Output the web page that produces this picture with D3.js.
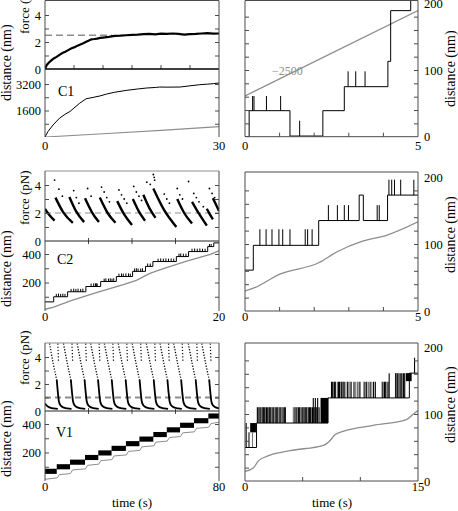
<!DOCTYPE html>
<html><head><meta charset="utf-8">
<script src="https://cdn.jsdelivr.net/npm/d3@7"></script>
<style>
body{margin:0;background:#fff}
svg text{font-family:"Liberation Serif","Times New Roman","DejaVu Serif",serif !important;fill:#000}
</style>
</head><body>
<svg id="chart" width="458" height="511" font-family="Liberation Serif, serif"></svg>
<script>
// ===================== DATA =====================
// --- C1 (left, row 1) ---
const c1ForceT = [0,0.3,0.6,1.0,1.5,2.0,2.5,3.0,3.5,4.0,4.5,5.0,5.5,6.0,6.5,7.0,7.5,8.0,8.5,9,9.5,10,11,12,13,14,15,16,17,18,19,20,21,22,23,24,25,26,27,28,29,30];
const c1Force  = [0,0.3,0.45,0.6,0.78,0.9,1.05,1.18,1.28,1.4,1.52,1.6,1.7,1.8,1.88,2.0,2.1,2.2,2.22,2.25,2.3,2.33,2.38,2.45,2.47,2.5,2.53,2.55,2.58,2.6,2.57,2.62,2.6,2.63,2.6,2.55,2.58,2.6,2.63,2.65,2.62,2.63];
const c1Target = [[0,2.5],[11.6,2.5]];
const c1DistT  = [0,0.5,1.4,2.5,3.5,4.3,5,6,7.1,8.3,9.5,10.6,12,14,16,17.5,19,19.8,21,23.3,25,26.7,28,29,30];
const c1Dist   = [0,324,730,1134,1380,1540,1750,2046,2310,2390,2480,2592,2700,2815,2900,2957,2990,3017,3010,3017,3090,3159,3190,3220,3260];
const c1Gray   = [[0,0],[10,195],[20,405],[30,628]];

// --- C2 (left, row 2) ---
const c2Arcs = [
  [[0,2.3],[0.5,1.85],[1.1,1.45]],
  [[1.2,3.1],[2.1,2.05],[3.2,1.3]],
  [[2.8,3.15],[3.6,2.1],[4.5,1.35]],
  [[4.6,3.05],[5.4,2.05],[6.2,1.35]],
  [[6.3,3.1],[7.2,2.0],[8.1,1.3]],
  [[8.3,2.85],[9.1,1.9],[10.0,1.15]],
  [[10.1,3.0],[10.8,2.1],[11.5,1.45]],
  [[11.3,3.3],[12.0,2.35],[12.7,1.65]],
  [[12.45,3.75],[13.7,2.2],[15.1,1.0]],
  [[15.2,3.0],[16.0,2.0],[16.9,1.25]],
  [[16.9,2.8],[17.7,1.95],[18.6,1.1]],
  [[18.6,2.3],[18.95,1.9],[19.3,1.55]],
  [[19.3,3.05],[19.65,2.6],[20,2.15]]
];
const c2Dots = [[1.1,4.35],[1.6,3.7],[2.0,3.2],[3.3,3.6],[3.6,3.1],[3.9,2.7],[4.9,3.75],[5.3,3.2],
  [6.5,3.85],[6.8,3.5],[7.1,3.1],[7.4,2.8],[8.5,3.65],[8.8,3.3],[9.1,3.0],[9.4,2.7],
  [10.2,3.9],[10.5,3.5],[10.8,3.2],[11.1,2.9],[11.7,4.2],[12.1,4.05],[12.45,4.75],[12.55,4.55],[12.6,4.35],
  [13.7,3.35],[14.0,3.0],[14.3,2.7],[15.2,3.75],[15.5,3.3],[15.8,3.0],[16.5,4.25],[17.1,3.4],[17.4,3.1],
  [17.7,2.8],[18.2,2.45],[18.9,3.75],[19.2,3.4],[19.5,3.1]];
const c2Target = [[0,2.0],[20,2.0]];
const c2Steps = [[0,64],[1.0,100],[2.6,135],[4.7,172],[6.4,207],[8.2,242],[10.07,278],[11.55,313],[12.4,347],[15.1,382],[16.5,417],[18.7,452],[19.4,478],[20,478]];
const c2Spikes = [[1.3,120],[1.55,122],[1.8,120],[2.05,122],[2.3,120],
  [3.0,155],[3.3,157],[3.55,155],[3.8,157],[4.1,155],[4.35,157],
  [5.3,192],[5.6,194],[5.8,194],[5.9,194],[6.0,192],
  [6.8,227],[7.0,229],[7.3,227],[7.5,229],[7.7,227],[7.9,229],
  [8.5,262],[8.8,264],[9.0,262],[9.3,264],[9.6,264],[9.8,262],
  [10.3,298],[10.5,300],[10.7,298],[11.0,298],[11.2,300],
  [11.8,333],[12.1,333],
  [13.0,367],[13.3,369],[13.6,367],[13.9,369],[14.2,367],[14.5,369],[14.8,367],
  [15.4,402],[15.6,404],[15.9,402],[16.2,402],
  [16.9,437],[17.2,439],[17.5,437],[17.8,439],[18.1,437],[18.4,437],
  [18.9,470],[19.1,470]];
const c2Gray = [[0,12],[1,28],[3,72],[6,130],[9,185],[10.5,215],[12,262],[13,285],[16,345],[17,362],[19,398],[20,422]];

// --- V1 (left, row 3) ---
const v1Desc = [
  [[2.1,5.0],[3.8,3.5],[5.4,2.3]],
  [[8.5,5.0],[10.3,3.5],[11.9,2.3]],
  [[14.8,5.0],[16.6,3.5],[18.2,2.3]],
  [[21.0,5.0],[22.8,3.5],[24.4,2.3]],
  [[27.3,5.0],[29.1,3.5],[30.7,2.3]],
  [[33.7,5.0],[35.5,3.5],[37.1,2.3]],
  [[40.1,5.0],[41.9,3.5],[43.5,2.3]],
  [[46.6,5.0],[48.4,3.5],[50.0,2.3]],
  [[52.9,5.0],[54.7,3.5],[56.3,2.3]],
  [[59.2,5.0],[61.0,3.5],[62.6,2.3]],
  [[65.9,5.0],[67.7,3.5],[69.3,2.3]],
  [[72.1,5.0],[73.9,3.5],[75.5,2.3]]
];
const v1Steep = [
  [[5.9,5.0],[6.2,3.7]],[[12.4,5.0],[12.7,3.7]],[[18.7,5.0],[19.0,3.7]],[[24.9,5.0],[25.2,3.7]],
  [[31.2,5.0],[31.5,3.7]],[[37.6,5.0],[37.9,3.7]],[[44.0,5.0],[44.3,3.7]],[[50.5,5.0],[50.8,3.7]],
  [[56.8,5.0],[57.1,3.7]],[[63.1,5.0],[63.4,3.7]],[[69.8,5.0],[70.1,3.7]],[[76.0,5.0],[76.3,3.7]]
];
const v1Decay = [
  [[0,0.55],[0.8,0.4],[2.0,0.27],[4.0,0.19],[5.9,0.16]],
  [[5.4,2.3],[5.9,1.4],[6.4,0.7],[7.1,0.42],[8.4,0.27],[10.3,0.19],[12.2,0.16]],
  [[11.9,2.3],[12.4,1.4],[12.9,0.7],[13.6,0.42],[14.9,0.27],[16.8,0.19],[18.5,0.16]],
  [[18.2,2.3],[18.7,1.4],[19.2,0.7],[19.9,0.42],[21.2,0.27],[23.1,0.19],[24.7,0.16]],
  [[24.4,2.3],[24.9,1.4],[25.4,0.7],[26.1,0.42],[27.4,0.27],[29.3,0.19],[31.0,0.16]],
  [[30.7,2.3],[31.2,1.4],[31.7,0.7],[32.4,0.42],[33.7,0.27],[35.6,0.19],[37.4,0.16]],
  [[37.1,2.3],[37.6,1.4],[38.1,0.7],[38.8,0.42],[40.1,0.27],[42.0,0.19],[43.8,0.16]],
  [[43.5,2.3],[44.0,1.4],[44.5,0.7],[45.2,0.42],[46.5,0.27],[48.4,0.19],[50.3,0.16]],
  [[50.0,2.3],[50.5,1.4],[51.0,0.7],[51.7,0.42],[53.0,0.27],[54.9,0.19],[56.6,0.16]],
  [[56.3,2.3],[56.8,1.4],[57.3,0.7],[58.0,0.42],[59.3,0.27],[61.2,0.19],[62.9,0.16]],
  [[62.6,2.3],[63.1,1.4],[63.6,0.7],[64.3,0.42],[65.6,0.27],[67.5,0.19],[69.6,0.16]],
  [[69.3,2.3],[69.8,1.4],[70.3,0.7],[71.0,0.42],[72.3,0.27],[74.2,0.19],[75.8,0.16]],
  [[75.5,2.3],[76.0,1.4],[76.5,0.7],[77.2,0.42],[78.5,0.27],[80,0.2]]
];
const v1Target = [[0,1.0],[80,1.0]];
const v1Start = [0,5.4,11.5,18.4,24.5,30.6,37.2,43.4,49.8,56,62.1,68.5,75.1];
const v1End   = [5.4,11.5,18.4,24.5,30.6,37.2,43.4,49.8,56,62.1,68.5,75.1,80];
const v1Lo    = [50,82,114,147,179,211,244,276,308,341,373,405,438];
const v1Hi    = [86,118,150,183,215,247,280,312,344,377,409,441,474];
const v1Gray = [[0,12],[5.6,22],[6.6,45],[11.7,52],[12.7,78],[18.6,85],[19.6,110],[24.7,118],[25.7,143],[30.8,150],[31.8,176],[37.4,183],[38.4,208],[43.6,215],[44.6,240],[50,247],[51,273],[56.2,280],[57.2,305],[62.3,312],[63.3,338],[68.7,345],[69.7,370],[75.3,377],[76.3,403],[80,412]];

// --- right, row 1 ---
const rtSteps  = [[0,0],[0.12,39],[1.30,1],[2.25,39],[2.87,75],[4.13,113],[4.21,189],[4.79,206],[5,206]];
const rtSpikes = [[0.22,61],[0.26,61],[0.62,61],[1.03,61],[1.58,24],[2.98,98],[3.2,98],[3.47,98]];
const rtGray   = [[0,61],[5,189]];
const rtNote   = {t:0.78, d:93, text:"\u22122500"};

// --- right, row 2 ---
const rmSteps  = [[0,61],[0.24,98],[2.13,135],[3.30,173],[3.42,135],[4.12,173],[5,173]];
const rmSpikes = [[0.43,122],[0.61,122],[0.78,122],[0.98,122],[1.09,122],[1.30,122],[1.74,122],[1.81,122],[1.94,122],
  [2.41,158],[2.67,158],[2.87,158],[2.99,158],[3.82,158],[3.88,158],
  [4.16,196],[4.24,196],[4.32,196],[4.50,196],[4.88,196]];
const rmGray   = [[0,30],[0.24,34],[1.01,55],[2.13,72],[2.65,88],[3.42,104.5],[4.09,113],[5,133]];

// --- right, row 3 ---
const rbSteps  = [[0,50],[1.0,86.5],[7.2,124],[14.25,161],[15,161]];
// [time, top, colour: 0 black / 1 grey]
const rbBars = [[0.1,86.5,0],[0.3,72.6,1],[0.38,72.6,1],[0.65,72.6,1],
  [1.07,110,0],[1.15,110,0],[1.22,110,1],[1.3,110,0],[1.39,110,0],[1.47,110,1],[1.55,110,0],[1.62,110,0],[1.71,110,0],[1.78,110,1],
  [1.86,110,0],[1.94,110,0],[2.02,110,1],[2.1,110,0],[2.17,110,0],[2.25,110,0],[2.33,110,1],[2.42,110,0],[2.5,110,0],[2.6,110,1],
  [2.68,110,0],[2.76,110,0],[2.85,110,0],[2.95,110,1],[3.03,110,0],[3.12,110,0],[3.2,110,1],[3.3,110,0],[3.41,110,0],[3.5,110,0],
  [4.19,110,1],[4.27,110,1],[4.35,110,0],[4.42,110,1],[4.5,110,0],[4.58,110,1],[4.65,110,0],[4.73,110,0],[4.8,110,1],[4.88,110,1],
  [4.96,110,0],[5.05,110,0],[5.12,110,1],[5.2,110,0],[5.28,110,0],[5.36,110,0],[5.45,110,1],[5.53,110,0],[5.6,110,0],[5.69,110,0],
  [5.77,110,1],[5.85,110,0],[5.92,124,0],[6.0,110,0],[6.1,124,0],[6.16,110,0],[6.25,110,0],[6.3,124,0],[6.42,110,0],
  [7.5,148,0],[7.58,148,0],[7.66,148,1],[7.75,148,0],[7.83,148,0],[8.0,148,1],[8.1,148,0],[8.2,148,0],[8.3,148,1],[8.38,148,0],
  [8.5,148,0],[8.6,148,0],[8.75,148,1],[8.9,148,0],[9.0,148,1],[9.1,148,1],[9.2,148,0],[9.45,148,0],[9.6,148,1],[9.75,148,1],
  [9.9,148,0],[10.0,148,1],[10.3,148,1],[10.4,148,0],[10.55,148,0],[10.7,148,1],[10.85,148,0],[11.0,148,1],[11.15,148,0],[11.3,148,0],
  [11.9,148,0],[12.0,148,1],[12.1,148,0],[12.2,148,0],[12.3,148,1],[12.4,148,0],[12.5,161,0],
  [13.05,161,0],[13.12,161,1],[13.2,161,0],[13.28,161,0],[13.35,161,1],[13.45,161,0],[13.55,161,0],[13.65,161,1],[13.75,161,0],[13.85,161,0],
  [14.7,184,0]];
// [t0, t1, lo, hi]
const rbBlocks = [[0.45,0.95,72.6,86.5],[6.55,7.2,86.5,124],[13.95,14.45,149,161]];
const rbGray   = [[0,14.4],[0.72,19.4],[1.16,30],[1.88,36.8],[3.9,45.3],[6.8,53.2],[7.3,59],[7.8,69],[8.5,74],[11.1,83],[14.0,91.5],[14.6,100],[15,105]];

// tick/label lists
const forceLabels = [0,2,4], forceTicks = [1,2,3,4];
const c1DistLabels = [1600,3200], c1DistTicks = [800,1600,2400,3200];
const nmLabels = [200,400], nmTicks = [100,200,300,400];
const rightLabels = [0,100,200], rightTicks = [20,40,60,80,100,120,140,160,180];

// ===================== DRAWING =====================
const SERIF = "Liberation Serif, Times New Roman, serif";
const svg = d3.select("#chart");
const defs = svg.append("defs");
let cid = 0;
function clip(x0,y0,x1,y1){
  const id = "clip"+(cid++);
  defs.append("clipPath").attr("id",id).append("rect")
    .attr("x",x0).attr("y",y0).attr("width",x1-x0).attr("height",y1-y0);
  return "url(#"+id+")";
}
const GRAY = "#8d8d8d", FRAME = "#4a4a4a";
const LX = [45,219], RX = [245,418];
const FONT = 13, TICKFONT = 12.5;
const fmt = d3.format("d");

function hline(y,x0,x1,col,w){svg.append("line").attr("x1",x0).attr("x2",x1).attr("y1",y).attr("y2",y).attr("stroke",col).attr("stroke-width",w||1);}
function vline(x,y0,y1,col,w){svg.append("line").attr("x1",x).attr("x2",x).attr("y1",y0).attr("y2",y1).attr("stroke",col).attr("stroke-width",w||1);}
function cleanAxis(g){g.select(".domain").remove(); g.selectAll("line").attr("stroke",FRAME); }
function innerTicks(scale, values, xLeft, xRight){
  svg.append("g").attr("transform",`translate(${xLeft},0)`)
    .call(d3.axisRight(scale).tickValues(values).tickSize(4).tickFormat(""))
    .call(cleanAxis);
  svg.append("g").attr("transform",`translate(${xRight},0)`)
    .call(d3.axisLeft(scale).tickValues(values).tickSize(4).tickFormat(""))
    .call(cleanAxis);
}
function styleText(g){
  g.attr("font-family",SERIF);
  g.selectAll("text").attr("font-size",TICKFONT).attr("font-family",SERIF).attr("fill","#000");
}
function leftLabels(scale, values, x){
  const g = svg.append("g").attr("transform",`translate(${x},0)`)
    .call(d3.axisLeft(scale).tickValues(values).tickSize(0).tickPadding(4).tickFormat(fmt));
  g.select(".domain").remove();
  styleText(g);
}
function rightLabelsAxis(scale, values, x){
  const g = svg.append("g").attr("transform",`translate(${x},0)`)
    .call(d3.axisRight(scale).tickValues(values).tickSize(0).tickPadding(6).tickFormat(fmt));
  g.select(".domain").remove();
  styleText(g);
}
function xTicks(scale, values, y, up, down){
  svg.append("g").selectAll("line").data(values).join("line")
    .attr("x1",d=>scale(d)).attr("x2",d=>scale(d)).attr("y1",y-up).attr("y2",y+down).attr("stroke",FRAME);
}
function xLabels(scale, values, y){
  svg.append("g").selectAll("text").data(values).join("text")
    .attr("x",d=>scale(d)).attr("y",y).attr("text-anchor","middle").attr("font-size",TICKFONT)
    .attr("font-family",SERIF).text(d=>d);
}
function rotLabel(text,x,yBottom,size){
  svg.append("text").attr("transform",`translate(${x},${yBottom}) rotate(-90)`)
    .attr("text-anchor","start").attr("font-size",size).attr("font-family",SERIF).text(text);
}
function plainText(text,x,y,size,col){
  return svg.append("text").attr("x",x).attr("y",y).attr("font-size",size).attr("font-family",SERIF)
    .style("fill",col||"#000").text(text);
}
function pathXY(x,y,curve){return d3.line().x(d=>x(d[0])).y(d=>y(d[1])).curve(curve||d3.curveLinear);}
function stepLookup(steps,t){ const i = d3.bisector(d=>d[0]).right(steps,t)-1; return steps[Math.max(0,i)][1]; }

// ---------- LEFT PANELS ----------
const leftRows = [
  {top:0.5, zero:69, f4:15, bottom:137, dDom:[0,3200], dRng:[137,84], tMax:30},
  {top:171, zero:241, f4:185, bottom:311, dDom:[0,400], dRng:[311,254], tMax:20},
  {top:343, zero:411, f4:357, bottom:481, dDom:[0,400], dRng:[481,424], tMax:80}
];
leftRows.forEach(r=>{
  r.x = d3.scaleLinear().domain([0,r.tMax]).range(LX);
  r.yF = d3.scaleLinear().domain([0,4]).range([r.zero,r.f4]);
  r.yD = d3.scaleLinear().domain(r.dDom).range(r.dRng);
  r.clipF = clip(LX[0],r.top,LX[1],r.zero);
  r.clipD = clip(LX[0],r.zero,LX[1],r.bottom);
});

// Row 1 : C1
{
  const r = leftRows[0];
  const gF = svg.append("g").attr("clip-path",r.clipF);
  gF.append("path").datum(c1Target).attr("d",pathXY(r.x,r.yF)).attr("fill","none")
    .attr("stroke",GRAY).attr("stroke-width",1.3).attr("stroke-dasharray","7,4");
  gF.append("path").datum(c1ForceT.map((t,i)=>[t,c1Force[i]])).attr("d",pathXY(r.x,r.yF))
    .attr("fill","none").attr("stroke","#000").attr("stroke-width",2.2);
  const gD = svg.append("g").attr("clip-path",r.clipD);
  gD.append("path").datum(c1Gray).attr("d",pathXY(r.x,r.yD)).attr("fill","none").attr("stroke",GRAY).attr("stroke-width",1.2);
  gD.append("path").datum(c1DistT.map((t,i)=>[t,c1Dist[i]])).attr("d",pathXY(r.x,r.yD))
    .attr("fill","none").attr("stroke","#000").attr("stroke-width",1);
  innerTicks(r.yF, forceTicks, LX[0], LX[1]);
  innerTicks(r.yD, c1DistTicks, LX[0], LX[1]);
  leftLabels(r.yF, forceLabels, LX[0]);
  leftLabels(r.yD, c1DistLabels, LX[0]);
  xTicks(r.x, [5,10,15,20,25], r.zero, 4, 0);
  hline(r.zero, LX[0], LX[1], "#000", 1.6);
  xLabels(r.x, [0,30], 150);
  plainText("C1",58,96,14);
  rotLabel("force (pN)", 29, 34, FONT);
  rotLabel("distance (nm)", 11, 101, 14);
}
// Row 2 : C2
{
  const r = leftRows[1];
  const gF = svg.append("g").attr("clip-path",r.clipF);
  gF.append("path").datum(c2Target).attr("d",pathXY(r.x,r.yF)).attr("fill","none")
    .attr("stroke",GRAY).attr("stroke-width",1.2).attr("stroke-dasharray","6,4");
  gF.selectAll("path.arc").data(c2Arcs).join("path").attr("class","arc")
    .attr("d",pathXY(r.x,r.yF,d3.curveMonotoneX)).attr("fill","none").attr("stroke","#000").attr("stroke-width",2.4);
  gF.selectAll("circle").data(c2Dots).join("circle")
    .attr("cx",d=>r.x(d[0])).attr("cy",d=>r.yF(d[1])).attr("r",0.9).attr("fill","#000");
  const gD = svg.append("g").attr("clip-path",r.clipD);
  gD.append("path").datum(c2Gray).attr("d",pathXY(r.x,r.yD)).attr("fill","none").attr("stroke",GRAY).attr("stroke-width",1.3);
  gD.append("path").datum(c2Steps).attr("d",pathXY(r.x,r.yD,d3.curveStepAfter)).attr("fill","none").attr("stroke","#000").attr("stroke-width",1);
  gD.selectAll("line").data(c2Spikes).join("line")
    .attr("x1",d=>r.x(d[0])).attr("x2",d=>r.x(d[0]))
    .attr("y1",d=>r.yD(stepLookup(c2Steps,d[0]))).attr("y2",d=>r.yD(d[1]))
    .attr("stroke","#000").attr("stroke-width",1);
  innerTicks(r.yF, forceTicks, LX[0], LX[1]);
  innerTicks(r.yD, nmTicks, LX[0], LX[1]);
  leftLabels(r.yF, forceLabels, LX[0]);
  leftLabels(r.yD, nmLabels, LX[0]);
  xTicks(r.x, [5,10,15], r.zero, 3, 3);
  hline(r.top, LX[0], LX[1], GRAY, 1);
  hline(r.zero, LX[0], LX[1], "#222", 1);
  xLabels(r.x, [0,20], 321);
  plainText("C2",57,264,14);
  rotLabel("force (pN)", 29, 225, FONT);
  rotLabel("distance (nm)", 11, 307, 14);
}
// Row 3 : V1
{
  const r = leftRows[2];
  const gF = svg.append("g").attr("clip-path",r.clipF);
  gF.append("path").datum(v1Target).attr("d",pathXY(r.x,r.yF)).attr("fill","none")
    .attr("stroke",GRAY).attr("stroke-width",2).attr("stroke-dasharray","6,4");
  gF.selectAll("path.desc").data(v1Desc).join("path").attr("class","desc")
    .attr("d",pathXY(r.x,r.yF,d3.curveMonotoneX)).attr("fill","none").attr("stroke","#000")
    .attr("stroke-width",1.3).attr("stroke-dasharray","1.2,1.6");
  gF.selectAll("path.steep").data(v1Steep).join("path").attr("class","steep")
    .attr("d",pathXY(r.x,r.yF)).attr("fill","none").attr("stroke","#000")
    .attr("stroke-width",1.2).attr("stroke-dasharray","1.2,2");
  gF.selectAll("path.decay").data(v1Decay).join("path").attr("class","decay")
    .attr("d",pathXY(r.x,r.yF,d3.curveMonotoneX)).attr("fill","none").attr("stroke","#000").attr("stroke-width",1.8);
  const gD = svg.append("g").attr("clip-path",r.clipD);
  gD.append("path").datum(v1Gray).attr("d",pathXY(r.x,r.yD)).attr("fill","none").attr("stroke",GRAY).attr("stroke-width",1);
  gD.selectAll("rect").data(v1Start.map((s,i)=>[s,v1End[i],v1Lo[i],v1Hi[i]])).join("rect")
    .attr("x",d=>r.x(d[0])).attr("width",d=>r.x(d[1])-r.x(d[0]))
    .attr("y",d=>r.yD(d[3])).attr("height",d=>r.yD(d[2])-r.yD(d[3])).attr("fill","#000");
  innerTicks(r.yF, forceTicks, LX[0], LX[1]);
  innerTicks(r.yD, nmTicks, LX[0], LX[1]);
  leftLabels(r.yF, forceLabels, LX[0]);
  leftLabels(r.yD, nmLabels, LX[0]);
  xTicks(r.x, [20,40,60], r.zero, 3, 3);
  hline(r.top, LX[0], LX[1], GRAY, 1);
  hline(r.zero, LX[0], LX[1], "#222", 1);
  xLabels(r.x, [0,80], 491);
  plainText("V1",56,437,14);
  rotLabel("force (pN)", 29, 385, FONT);
  rotLabel("distance (nm)", 11, 477, 14);
  plainText("time (s)",132,507,FONT).attr("text-anchor","middle");
}
// left frame edges
leftRows.forEach(r=>{
  vline(LX[0], r.top, r.bottom, FRAME, 1);
  vline(LX[1], r.top, r.bottom, FRAME, 1);
});
hline(0.5, LX[0], LX[1], FRAME, 1);

// ---------- RIGHT PANELS ----------
const rightRows = [
  {top:0.5, bottom:136.7, y200:3.3, tMax:5, xt:[1,2,3,4], steps:rtSteps, spikes:rtSpikes, gray:rtGray, lab:107, xl:150},
  {top:172, bottom:311, y200:177, tMax:5, xt:[1,2,3,4], steps:rmSteps, spikes:rmSpikes, gray:rmGray, lab:273, xl:321},
  {top:343, bottom:481, y200:347, tMax:15, xt:[5,10], steps:rbSteps, spikes:null, gray:rbGray, lab:443, xl:491}
];
rightRows.forEach((r,k)=>{
  r.x = d3.scaleLinear().domain([0,r.tMax]).range(RX);
  r.y = d3.scaleLinear().domain([0,200]).range([r.bottom,r.y200]);
  const g = svg.append("g").attr("clip-path",clip(RX[0],r.top,RX[1],r.bottom));
  g.append("path").datum(r.gray).attr("d",pathXY(r.x,r.y,k===0?d3.curveLinear:d3.curveMonotoneX))
    .attr("fill","none").attr("stroke",GRAY).attr("stroke-width",1.3);
  if(k===2){
    g.selectAll("rect").data(rbBlocks).join("rect")
      .attr("x",d=>r.x(d[0])).attr("width",d=>r.x(d[1])-r.x(d[0]))
      .attr("y",d=>r.y(d[3])).attr("height",d=>r.y(d[2])-r.y(d[3])).attr("fill","#000");
    g.selectAll("line.bar").data(rbBars).join("line").attr("class","bar")
      .attr("x1",d=>r.x(d[0])).attr("x2",d=>r.x(d[0]))
      .attr("y1",d=>r.y(stepLookup(rbSteps,d[0]))).attr("y2",d=>r.y(d[1]))
      .attr("stroke",d=>d[2]?"#777":"#000").attr("stroke-width",1.1);
  } else {
    g.selectAll("line.sp").data(r.spikes).join("line").attr("class","sp")
      .attr("x1",d=>r.x(d[0])).attr("x2",d=>r.x(d[0]))
      .attr("y1",d=>r.y(stepLookup(r.steps,d[0]))).attr("y2",d=>r.y(d[1]))
      .attr("stroke","#000").attr("stroke-width",1);
  }
  g.append("path").datum(r.steps).attr("d",pathXY(r.x,r.y,d3.curveStepAfter))
    .attr("fill","none").attr("stroke","#000").attr("stroke-width",1);
  innerTicks(r.y, rightTicks, RX[0], RX[1]);
  rightLabelsAxis(r.y, rightLabels, RX[1]);
  xTicks(r.x, r.xt, r.bottom, 4, 0);
  vline(RX[0], r.top, r.bottom, FRAME, 1);
  vline(RX[1], r.top, r.bottom, FRAME, 1);
  hline(r.top, RX[0], RX[1], FRAME, 1);
  hline(r.bottom, RX[0], RX[1], FRAME, 1);
  xLabels(r.x, [0, r.tMax], r.xl);
  rotLabel("distance (nm)", 455, r.lab, 14);
  if(k===0){
    plainText(rtNote.text, r.x(rtNote.t), r.y(rtNote.d), 12, GRAY);
  }
});
plainText("time (s)",332,507,FONT).attr("text-anchor","middle");
</script>
</body></html>
